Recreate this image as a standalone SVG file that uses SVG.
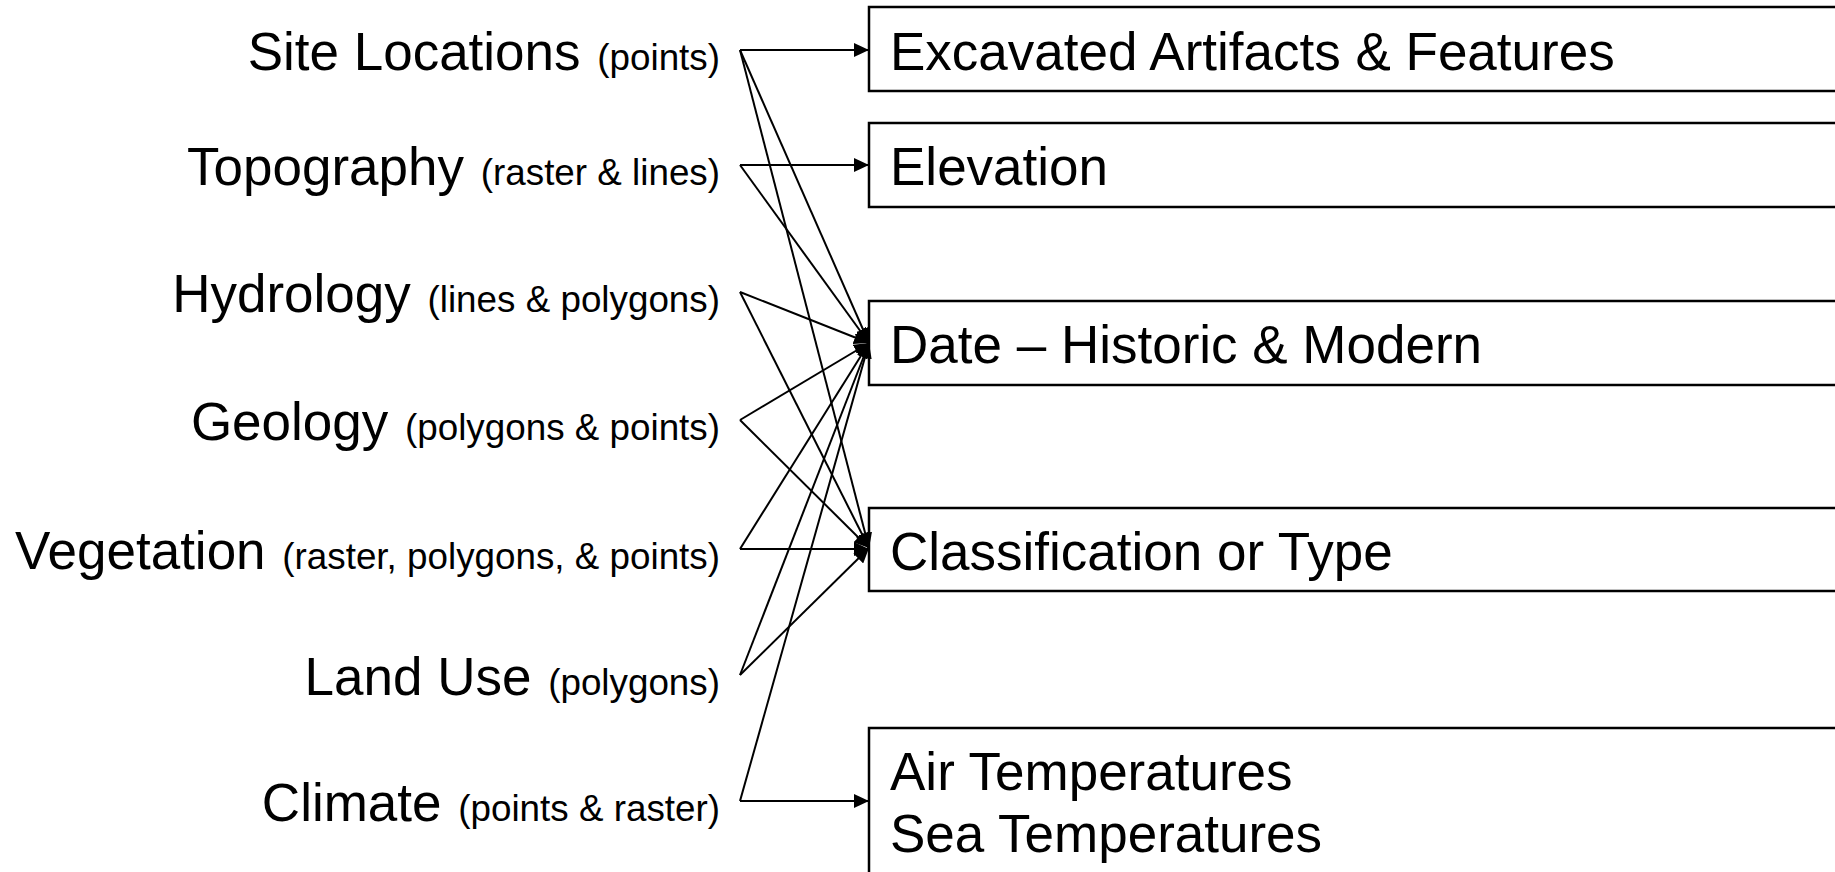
<svg xmlns="http://www.w3.org/2000/svg" width="1835" height="872" viewBox="0 0 1835 872">
<style>
text{font-family:"Liberation Sans",Arial,sans-serif;fill:#000}
.big{font-size:53px}
.sm{font-size:36.8px}
.lbl{text-anchor:end}
.box{fill:#fff;stroke:#000;stroke-width:2.5}
.con{stroke:#000;stroke-width:2;fill:none}
</style>
<defs>
<marker id="ah" viewBox="0 0 15 14" refX="15" refY="7" markerWidth="15" markerHeight="14" markerUnits="userSpaceOnUse" orient="auto">
<path d="M0,0 L15,7 L0,14 z" fill="#000"/>
</marker>
</defs>
<rect width="1835" height="872" fill="#fff"/>
<g id="src-site"><text class="lbl" x="720" y="70"><tspan class="big">Site Locations </tspan><tspan class="sm" dx="2">(points)</tspan></text></g>
<g id="src-topo"><text class="lbl" x="720" y="185"><tspan class="big">Topography </tspan><tspan class="sm" dx="2">(raster &amp; lines)</tspan></text></g>
<g id="src-hydro"><text class="lbl" x="720" y="312"><tspan class="big">Hydrology </tspan><tspan class="sm" dx="2">(lines &amp; polygons)</tspan></text></g>
<g id="src-geo"><text class="lbl" x="720" y="440"><tspan class="big">Geology </tspan><tspan class="sm" dx="2">(polygons &amp; points)</tspan></text></g>
<g id="src-veg"><text class="lbl" x="720" y="569"><tspan class="big">Vegetation </tspan><tspan class="sm" dx="2">(raster, polygons, &amp; points)</tspan></text></g>
<g id="src-land"><text class="lbl" x="720" y="695"><tspan class="big">Land Use </tspan><tspan class="sm" dx="2">(polygons)</tspan></text></g>
<g id="src-climate"><text class="lbl" x="720" y="821"><tspan class="big">Climate </tspan><tspan class="sm" dx="2">(points &amp; raster)</tspan></text></g>
<g id="dst-artifacts"><rect class="box" x="869" y="7" width="1000" height="84"/><text class="big" x="890" y="70">Excavated Artifacts &amp; Features</text></g>
<g id="dst-elev"><rect class="box" x="869" y="123" width="1000" height="84"/><text class="big" x="890" y="185">Elevation</text></g>
<g id="dst-date"><rect class="box" x="869" y="301" width="1000" height="84"/><text class="big" x="890" y="363">Date – Historic &amp; Modern</text></g>
<g id="dst-class"><rect class="box" x="869" y="508" width="1000" height="83"/><text class="big" x="890" y="570">Classification or Type</text></g>
<g id="dst-temp"><rect class="box" x="869" y="728" width="1000" height="200"/><text class="big" x="890" y="790">Air Temperatures</text><text class="big" x="890" y="852">Sea Temperatures</text></g>
<g id="connectors">
<line class="con" x1="740" y1="50" x2="869" y2="50" marker-end="url(#ah)"/>
<line class="con" x1="740" y1="50" x2="869" y2="343" marker-end="url(#ah)"/>
<line class="con" x1="740" y1="50" x2="869" y2="548" marker-end="url(#ah)"/>
<line class="con" x1="740" y1="165" x2="869" y2="165" marker-end="url(#ah)"/>
<line class="con" x1="740" y1="165" x2="869" y2="343" marker-end="url(#ah)"/>
<line class="con" x1="740" y1="292" x2="869" y2="343" marker-end="url(#ah)"/>
<line class="con" x1="740" y1="292" x2="869" y2="548" marker-end="url(#ah)"/>
<line class="con" x1="740" y1="420" x2="869" y2="343" marker-end="url(#ah)"/>
<line class="con" x1="740" y1="420" x2="869" y2="548" marker-end="url(#ah)"/>
<line class="con" x1="740" y1="549" x2="869" y2="343" marker-end="url(#ah)"/>
<line class="con" x1="740" y1="549" x2="869" y2="549" marker-end="url(#ah)"/>
<line class="con" x1="740" y1="675" x2="869" y2="343" marker-end="url(#ah)"/>
<line class="con" x1="740" y1="675" x2="869" y2="548" marker-end="url(#ah)"/>
<line class="con" x1="740" y1="801" x2="869" y2="343" marker-end="url(#ah)"/>
<line class="con" x1="740" y1="801" x2="869" y2="801" marker-end="url(#ah)"/>
</g>
</svg>
